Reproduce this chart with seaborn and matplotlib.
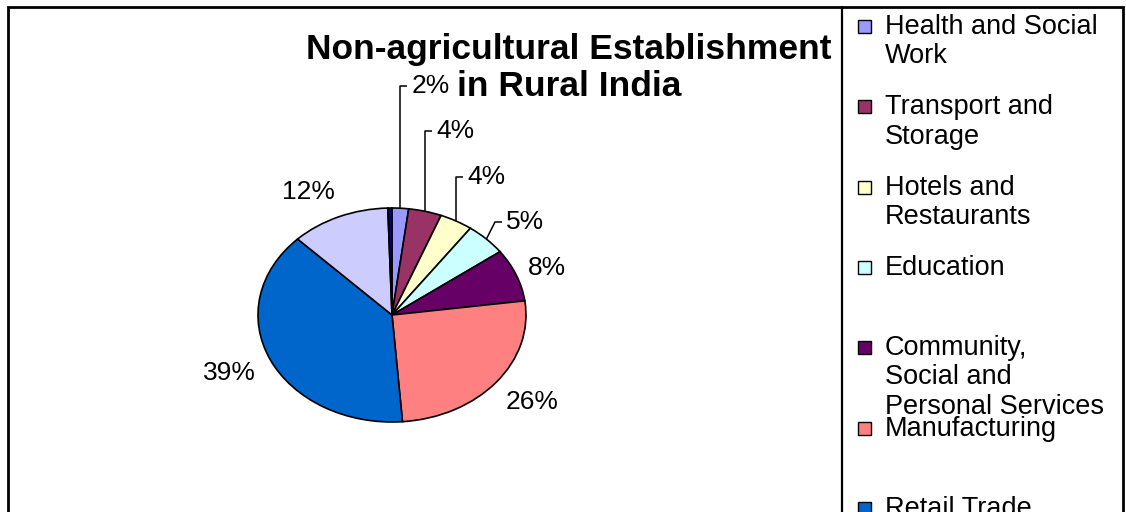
import matplotlib
matplotlib.use("Agg")
import matplotlib.pyplot as plt
from matplotlib.patches import Rectangle
import numpy as np
import seaborn as sns

# Share of non-agricultural establishments in rural India, by activity (%)
categories = [
    "Health and Social Work",
    "Transport and Storage",
    "Hotels and Restaurants",
    "Education",
    "Community, Social and Personal Services",
    "Manufacturing",
    "Retail Trade",
    "Others",
    "Electricity, Gas and Water Supply",
]
legend_labels = [
    "Health and Social\nWork",
    "Transport and\nStorage",
    "Hotels and\nRestaurants",
    "Education",
    "Community,\nSocial and\nPersonal Services",
    "Manufacturing",
    "Retail Trade",
    "Others",
    "Electricity, Gas and\nWater Supply",
]
shares = [2, 4, 4, 5, 8, 26, 39, 12, 0.5]
slice_colors = ["#9999FF", "#993366", "#FFFFCC", "#CCFFFF", "#660066",
                "#FF8080", "#0066CC", "#CCCCFF", "#000080"]
title = "Non-agricultural Establishment\nin Rural India"

sns.set_theme(style="white")
plt.rcParams["font.family"] = ["Liberation Sans", "DejaVu Sans"]

W, H = 1126, 512
fig = plt.figure(figsize=(W / 100, H / 100), dpi=100)
fig.patch.set_facecolor("white")

# pie centre and radii in pixels (the pie is drawn as an ellipse)
CX, CY, RX, RY = 392, 315, 134, 107


def to_data(px, py):
    return (px - CX) / RX, (CY - py) / RY


ax = fig.add_axes([0, 0, 1, 1])
palette = sns.color_palette(slice_colors)
wedges, _ = ax.pie(shares, colors=palette, startangle=90, counterclock=False,
                   radius=1, center=(0, 0),
                   wedgeprops=dict(edgecolor="black", linewidth=1.2))
ax.set_aspect("auto")
ax.set_xlim(to_data(0, 0)[0], to_data(W, 0)[0])
ax.set_ylim(to_data(0, H)[1], to_data(0, 0)[1])
ax.axis("off")

label_fs = 19
# labels with a leader line: (elbow x in px or None = straight up, elbow y in px)
leader_elbows = {0: (None, 86), 1: (None, 131), 2: (None, 177), 3: (495, 222)}
# labels placed freely beside their slice (text centre in px)
free_positions = {4: (547, 268), 5: (532, 402), 6: (229, 373), 7: (308, 192)}

for i, (w, v) in enumerate(zip(wedges, shares)):
    if v < 1:
        continue
    text = f"{v:.0f}%"
    phi = np.deg2rad((w.theta1 + w.theta2) / 2)
    ax_x, ax_y = np.cos(phi), np.sin(phi)
    if i in leader_elbows:
        ex_px, ey_px = leader_elbows[i]
        anchor_px = CX + ax_x * RX
        if ex_px is None:
            ex_px = anchor_px
        ex, ey = to_data(ex_px, ey_px)
        tx, _ = to_data(ex_px + 7, ey_px)
        ax.plot([ax_x, ex, tx], [ax_y, ey, ey], color="black", lw=1.1,
                clip_on=False, solid_capstyle="butt")
        lx, _ = to_data(ex_px + 11, ey_px)
        ax.text(lx, ey, text, ha="left", va="center", fontsize=label_fs,
                color="black")
    else:
        px, py = free_positions[i]
        x, y = to_data(px, py)
        ax.text(x, y, text, ha="center", va="center", fontsize=label_fs,
                color="black")

# title
fig.text(569 / W, 1 - 68 / H, title, ha="center", va="center",
         fontsize=25.5, fontweight="bold", linespacing=1.16, color="black")

# outer chart frame and legend box
fig.patches.append(Rectangle((8 / W, -0.1), (1123 - 8) / W, 1.1 - 7 / H,
                             transform=fig.transFigure, fill=False,
                             edgecolor="black", linewidth=2.0))
fig.lines.append(plt.Line2D([842 / W, 842 / W], [0, 1 - 7 / H],
                            transform=fig.transFigure, color="black", lw=1.6))

# legend entries at a fixed pitch
leg_fs = 19.5
pitch = 80.3
for k, (lab, col) in enumerate(zip(legend_labels, palette)):
    yc = 25 + k * pitch
    if yc > H + 10:
        break
    fig.patches.append(Rectangle((858 / W, 1 - (yc + 8) / H), 13 / W, 13 / H,
                                 transform=fig.transFigure, facecolor=col,
                                 edgecolor="black", linewidth=1.0))
    fig.text(885 / W, 1 - (yc - 11) / H, lab, ha="left", va="top",
             fontsize=leg_fs, linespacing=1.16, color="black")

fig.savefig("out.png", dpi=100, facecolor="white")
